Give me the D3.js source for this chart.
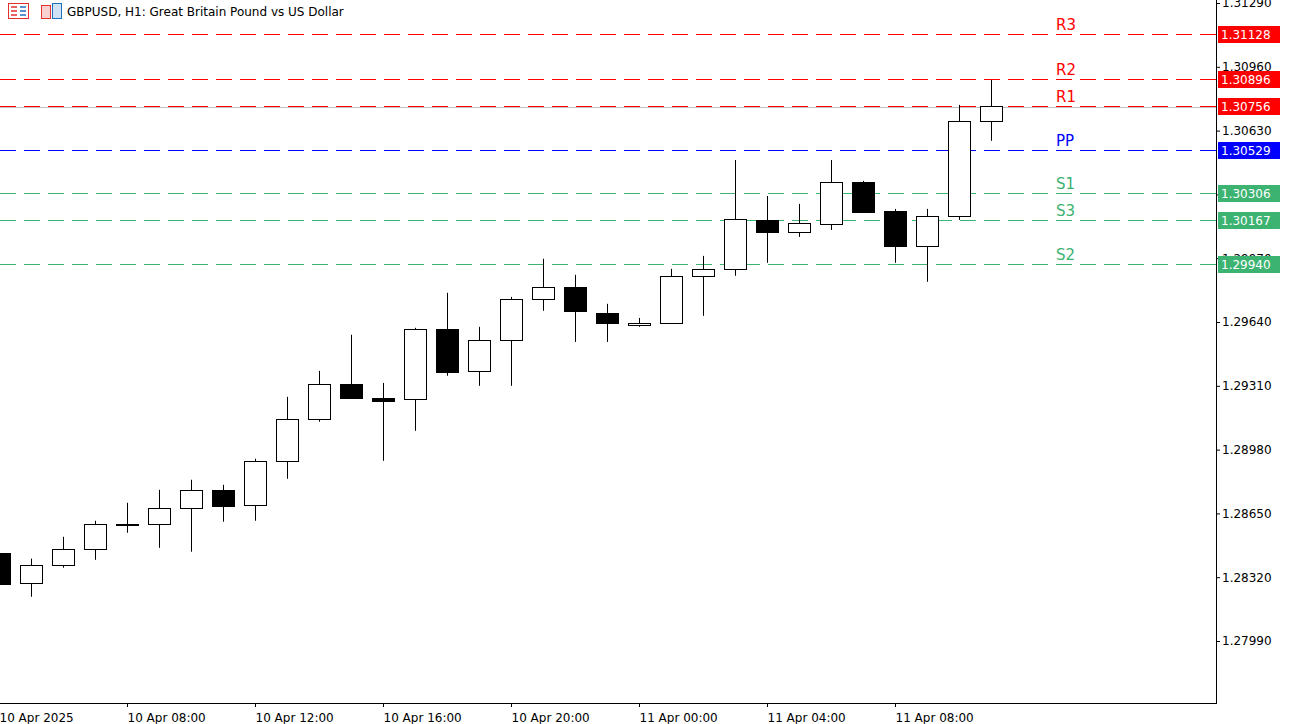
<!DOCTYPE html>
<html><head><meta charset="utf-8">
<script src="https://cdn.jsdelivr.net/npm/d3@7"></script>
<style>body{margin:0;background:#fff}svg{display:block}text{font-family:"DejaVu Sans",sans-serif}</style>
</head><body><svg id="c" width="1291" height="724"></svg>
<script>
const open_ = [1.28447,1.28291,1.28385,1.28467,1.28596,1.28596,1.28679,1.28772,1.28695,1.28922,1.29139,1.29320,1.29248,1.29243,1.29605,1.29387,1.29548,1.29760,1.29822,1.29687,1.29625,1.29636,1.29879,1.29915,1.30168,1.30106,1.30147,1.30365,1.30215,1.30034,1.30189,1.30680];
const high_ = [1.28447,1.28416,1.28529,1.28612,1.28705,1.28772,1.28824,1.28798,1.28933,1.29253,1.29387,1.29574,1.29325,1.29610,1.29791,1.29615,1.29770,1.29967,1.29884,1.29734,1.29661,1.29915,1.29982,1.30478,1.30292,1.30251,1.30478,1.30370,1.30225,1.30225,1.30763,1.30892];
const low_  = [1.28286,1.28219,1.28369,1.28410,1.28550,1.28472,1.28452,1.28607,1.28612,1.28829,1.29124,1.29248,1.28922,1.29077,1.29362,1.29310,1.29310,1.29698,1.29537,1.29537,1.29615,1.29636,1.29672,1.29879,1.29946,1.30080,1.30116,1.30210,1.29946,1.29848,1.30168,1.30577];
const close_= [1.28286,1.28385,1.28467,1.28596,1.28596,1.28679,1.28772,1.28690,1.28922,1.29139,1.29320,1.29248,1.29232,1.29605,1.29382,1.29548,1.29760,1.29822,1.29698,1.29636,1.29636,1.29879,1.29915,1.30173,1.30106,1.30153,1.30365,1.30210,1.30034,1.30189,1.30680,1.30756];
const priceTicks = [1.31290,1.30960,1.30630,1.30300,1.29970,1.29640,1.29310,1.28980,1.28650,1.28320,1.27990];
const timeLabels = ["10 Apr 2025","10 Apr 08:00","10 Apr 12:00","10 Apr 16:00","10 Apr 20:00","11 Apr 00:00","11 Apr 04:00","11 Apr 08:00"];
const timeIdx = [0,4,8,12,16,20,24,28];
const levelNames = ["R3","R2","R1","PP","S1","S3","S2"];
const levelValues = [1.31128,1.30896,1.30756,1.30529,1.30306,1.30167,1.29940];
const levelColors = ["#ff0000","#ff0000","#ff0000","#0000ff","#3cb371","#3cb371","#3cb371"];

const svg = d3.select("#c");
const y = d3.scaleLinear().domain([1.27990,1.31290]).range([641,3]);
const x = d3.scaleLinear().domain([0,31]).range([-1,991]);
const W = 1216, H = 703;

// levels
levelValues.forEach((v,i)=>{
  svg.append("line").attr("x1",0).attr("x2",W).attr("y1",Math.round(y(v))+0.5).attr("y2",Math.round(y(v))+0.5)
    .attr("stroke",levelColors[i]).attr("stroke-dasharray","16,8");
  svg.append("text").attr("x",1056).attr("y",Math.round(y(v))-4).attr("fill",levelColors[i]).attr("font-size",15).text(levelNames[i]);
});
// current price line
svg.append("line").attr("x1",0).attr("x2",W).attr("y1",Math.round(y(close_[31]))+1.5).attr("y2",Math.round(y(close_[31]))+1.5).attr("stroke","#c0c0c0");

// candles
const idx = d3.range(open_.length);
const g = svg.append("g");
idx.forEach(i=>{
  const cx = Math.round(x(i))+0.5;
  g.append("line").attr("x1",cx).attr("x2",cx).attr("y1",y(high_[i])).attr("y2",y(low_[i])).attr("stroke","#000");
  const bull = close_[i]>=open_[i];
  const t = y(Math.max(open_[i],close_[i])), b = y(Math.min(open_[i],close_[i]));
  g.append("rect").attr("x",cx-11).attr("y",Math.round(t)+0.5).attr("width",22).attr("height",Math.max(1,Math.round(b-t)))
    .attr("fill",bull?"#fff":"#000").attr("stroke","#000");
});

// axes frame
svg.append("line").attr("x1",W+0.5).attr("x2",W+0.5).attr("y1",0).attr("y2",H).attr("stroke","#000");
svg.append("line").attr("x1",0).attr("x2",W+1).attr("y1",H+0.5).attr("y2",H+0.5).attr("stroke","#000");
const ya = svg.append("g").attr("transform",`translate(${W},0)`).call(d3.axisRight(y).tickValues(priceTicks).tickSize(4).tickFormat(d3.format(".5f")));
ya.select(".domain").remove();
ya.selectAll("text").attr("font-size",12).attr("font-family","DejaVu Sans").attr("x",6).attr("fill","#000");
const xa = svg.append("g").attr("transform",`translate(0,${H})`).call(d3.axisBottom(x).tickValues(timeIdx).tickSize(4).tickFormat((d,i)=>timeLabels[i]));
xa.select(".domain").remove();
xa.selectAll("text").attr("font-size",12).attr("font-family","DejaVu Sans").attr("text-anchor","start").attr("dy",0).attr("y",19).attr("fill","#000");

// level boxes
levelValues.forEach((v,i)=>{
  const yy = Math.round(y(v));
  svg.append("rect").attr("x",W+2).attr("y",yy-8).attr("width",62).attr("height",17).attr("fill",levelColors[i]);
  svg.append("text").attr("x",W+5).attr("y",yy+5).attr("fill","#fff").attr("font-size",12).text(d3.format(".5f")(v));
});

// title icons
const ic = svg.append("g");
ic.append("rect").attr("x",8.5).attr("y",3.5).attr("width",20).attr("height",15).attr("fill","#fff").attr("stroke","#e03030");
[7,11,15].forEach(yy=>{ic.append("line").attr("x1",11).attr("x2",17).attr("y1",yy).attr("y2",yy).attr("stroke","#e03030").attr("stroke-width",1.5);
  ic.append("line").attr("x1",20).attr("x2",26).attr("y1",yy).attr("y2",yy).attr("stroke","#2070c0").attr("stroke-width",1.5);});
ic.append("rect").attr("x",41.5).attr("y",5.5).attr("width",9).attr("height",13).attr("fill","#f8d0d0").attr("stroke","#e03030");
ic.append("rect").attr("x",52.5).attr("y",3.5).attr("width",9).attr("height",15).attr("fill","#cfe3f7").attr("stroke","#2070c0");
svg.append("text").attr("x",67).attr("y",16).attr("font-size",12).attr("fill","#000").text("GBPUSD, H1:  Great Britain Pound vs US Dollar");
</script></body></html>
